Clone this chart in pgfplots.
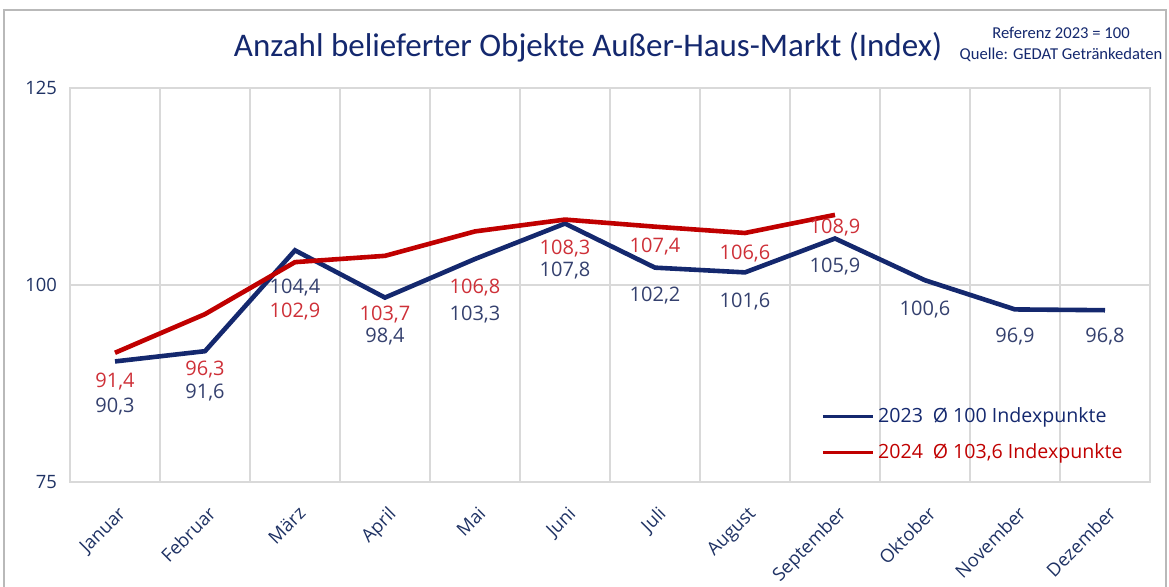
\documentclass[border=0pt]{standalone}
\usepackage{pgfplots}
\pgfplotsset{compat=1.18}
\usepackage{fontspec}
\setmainfont{Open Sans}
\newfontfamily\calibri{Carlito}
\definecolor{navy}{HTML}{14286E}
\definecolor{navylab}{HTML}{34406E}
\definecolor{redline}{HTML}{C00000}
\definecolor{redlab}{HTML}{CE3038}
\definecolor{gridc}{HTML}{D9D9D9}
\definecolor{tickc}{HTML}{1F3264}
\begin{document}
\begin{tikzpicture}[x=0.5pt,y=0.5pt]
\useasboundingbox (0,0) rectangle (1169,587);
\draw[color=gray!55, line width=1pt] (4,0) -- (4,577) -- (1166,577) -- (1166,0);
\node[font=\calibri\fontsize{16.5}{19}\selectfont, text=navy] at (588,540) {Anzahl belieferter Objekte Außer-Haus-Markt (Index)};
\node[font=\calibri\fontsize{8.3}{10.5}\selectfont, text=navy, align=center] at (1061,543) {Referenz 2023 = 100\\Quelle: GEDAT Getränkedaten};
\begin{axis}[
  at={(35pt,52.5pt)}, anchor=south west,
  scale only axis, width=540pt, height=197pt,
  xmin=-0.5, xmax=11.5, ymin=75, ymax=125,
  xtick={0,...,11},
  xticklabels={Januar,Februar,März,April,Mai,Juni,Juli,August,September,Oktober,November,Dezember},
  minor xtick={0.5,1.5,...,10.5},
  ytick={75,100,125},
  xminorgrids=true, ymajorgrids=true, xmajorgrids=false,
  grid style={gridc, line width=0.8pt},
  minor grid style={gridc, line width=0.8pt},
  axis line style={gridc, line width=0.8pt},
  major tick length=0pt, minor tick length=0pt,
  tick style={draw=none},
  /pgf/number format/assume math mode=true,
  ticklabel style={font=\fontsize{9.2}{11}\selectfont, text=tickc},
  xticklabel style={rotate=45, anchor=north east, yshift=-5.5pt, xshift=-4pt},
  yticklabel style={xshift=-3pt},
  legend style={at={(0.69,0.21)}, anchor=north west, draw=none, fill=none,
    font=\fontsize{9.8}{12}\selectfont, row sep=5pt},
  legend cell align=left,
  legend image code/.code={\draw[#1, line width=1.3pt] (0pt,0pt) -- (25pt,0pt);},
]
\addplot[navy, line width=2.3pt, mark=none] coordinates {
(0,90.3) (1,91.6) (2,104.4) (3,98.4) (4,103.3) (5,107.8) (6,102.2) (7,101.6) (8,105.9) (9,100.6) (10,96.9) (11,96.8)};
\addlegendentry{\textcolor{navy}{2023\enspace Ø 100 Indexpunkte}}
\addplot[redline, line width=2.3pt, mark=none] coordinates {
(0,91.4) (1,96.3) (2,102.9) (3,103.7) (4,106.8) (5,108.3) (6,107.4) (7,106.6) (8,108.9)};
\addlegendentry{\textcolor{redline}{2024\enspace Ø 103,6 Indexpunkte}}
\begin{scope}[every node/.style={font=\fontsize{10}{12}\selectfont}]
\node[text=redlab] at (axis cs:0,87.76) {91,4};
\node[text=navylab] at (axis cs:0,84.57) {90,3};
\node[text=redlab] at (axis cs:1,89.29) {96,3};
\node[text=navylab] at (axis cs:1,86.35) {91,6};
\node[text=navylab] at (axis cs:2,99.74) {104,4};
\node[text=redlab] at (axis cs:2,96.68) {102,9};
\node[text=redlab] at (axis cs:3,96.3) {103,7};
\node[text=navylab] at (axis cs:3,93.5) {98,4};
\node[text=redlab] at (axis cs:4,99.74) {106,8};
\node[text=navylab] at (axis cs:4,96.3) {103,3};
\node[text=redlab] at (axis cs:5,104.6) {108,3};
\node[text=navylab] at (axis cs:5,101.8) {107,8};
\node[text=redlab] at (axis cs:6,104.85) {107,4};
\node[text=navylab] at (axis cs:6,98.6) {102,2};
\node[text=redlab] at (axis cs:7,103.95) {106,6};
\node[text=navylab] at (axis cs:7,97.96) {101,6};
\node[text=redlab] at (axis cs:8,107.27) {108,9};
\node[text=navylab] at (axis cs:8,102.3) {105,9};
\node[text=navylab] at (axis cs:9,96.94) {100,6};
\node[text=navylab] at (axis cs:10,93.5) {96,9};
\node[text=navylab] at (axis cs:11,93.5) {96,8};
\end{scope}
\end{axis}
\end{tikzpicture}
\end{document}
